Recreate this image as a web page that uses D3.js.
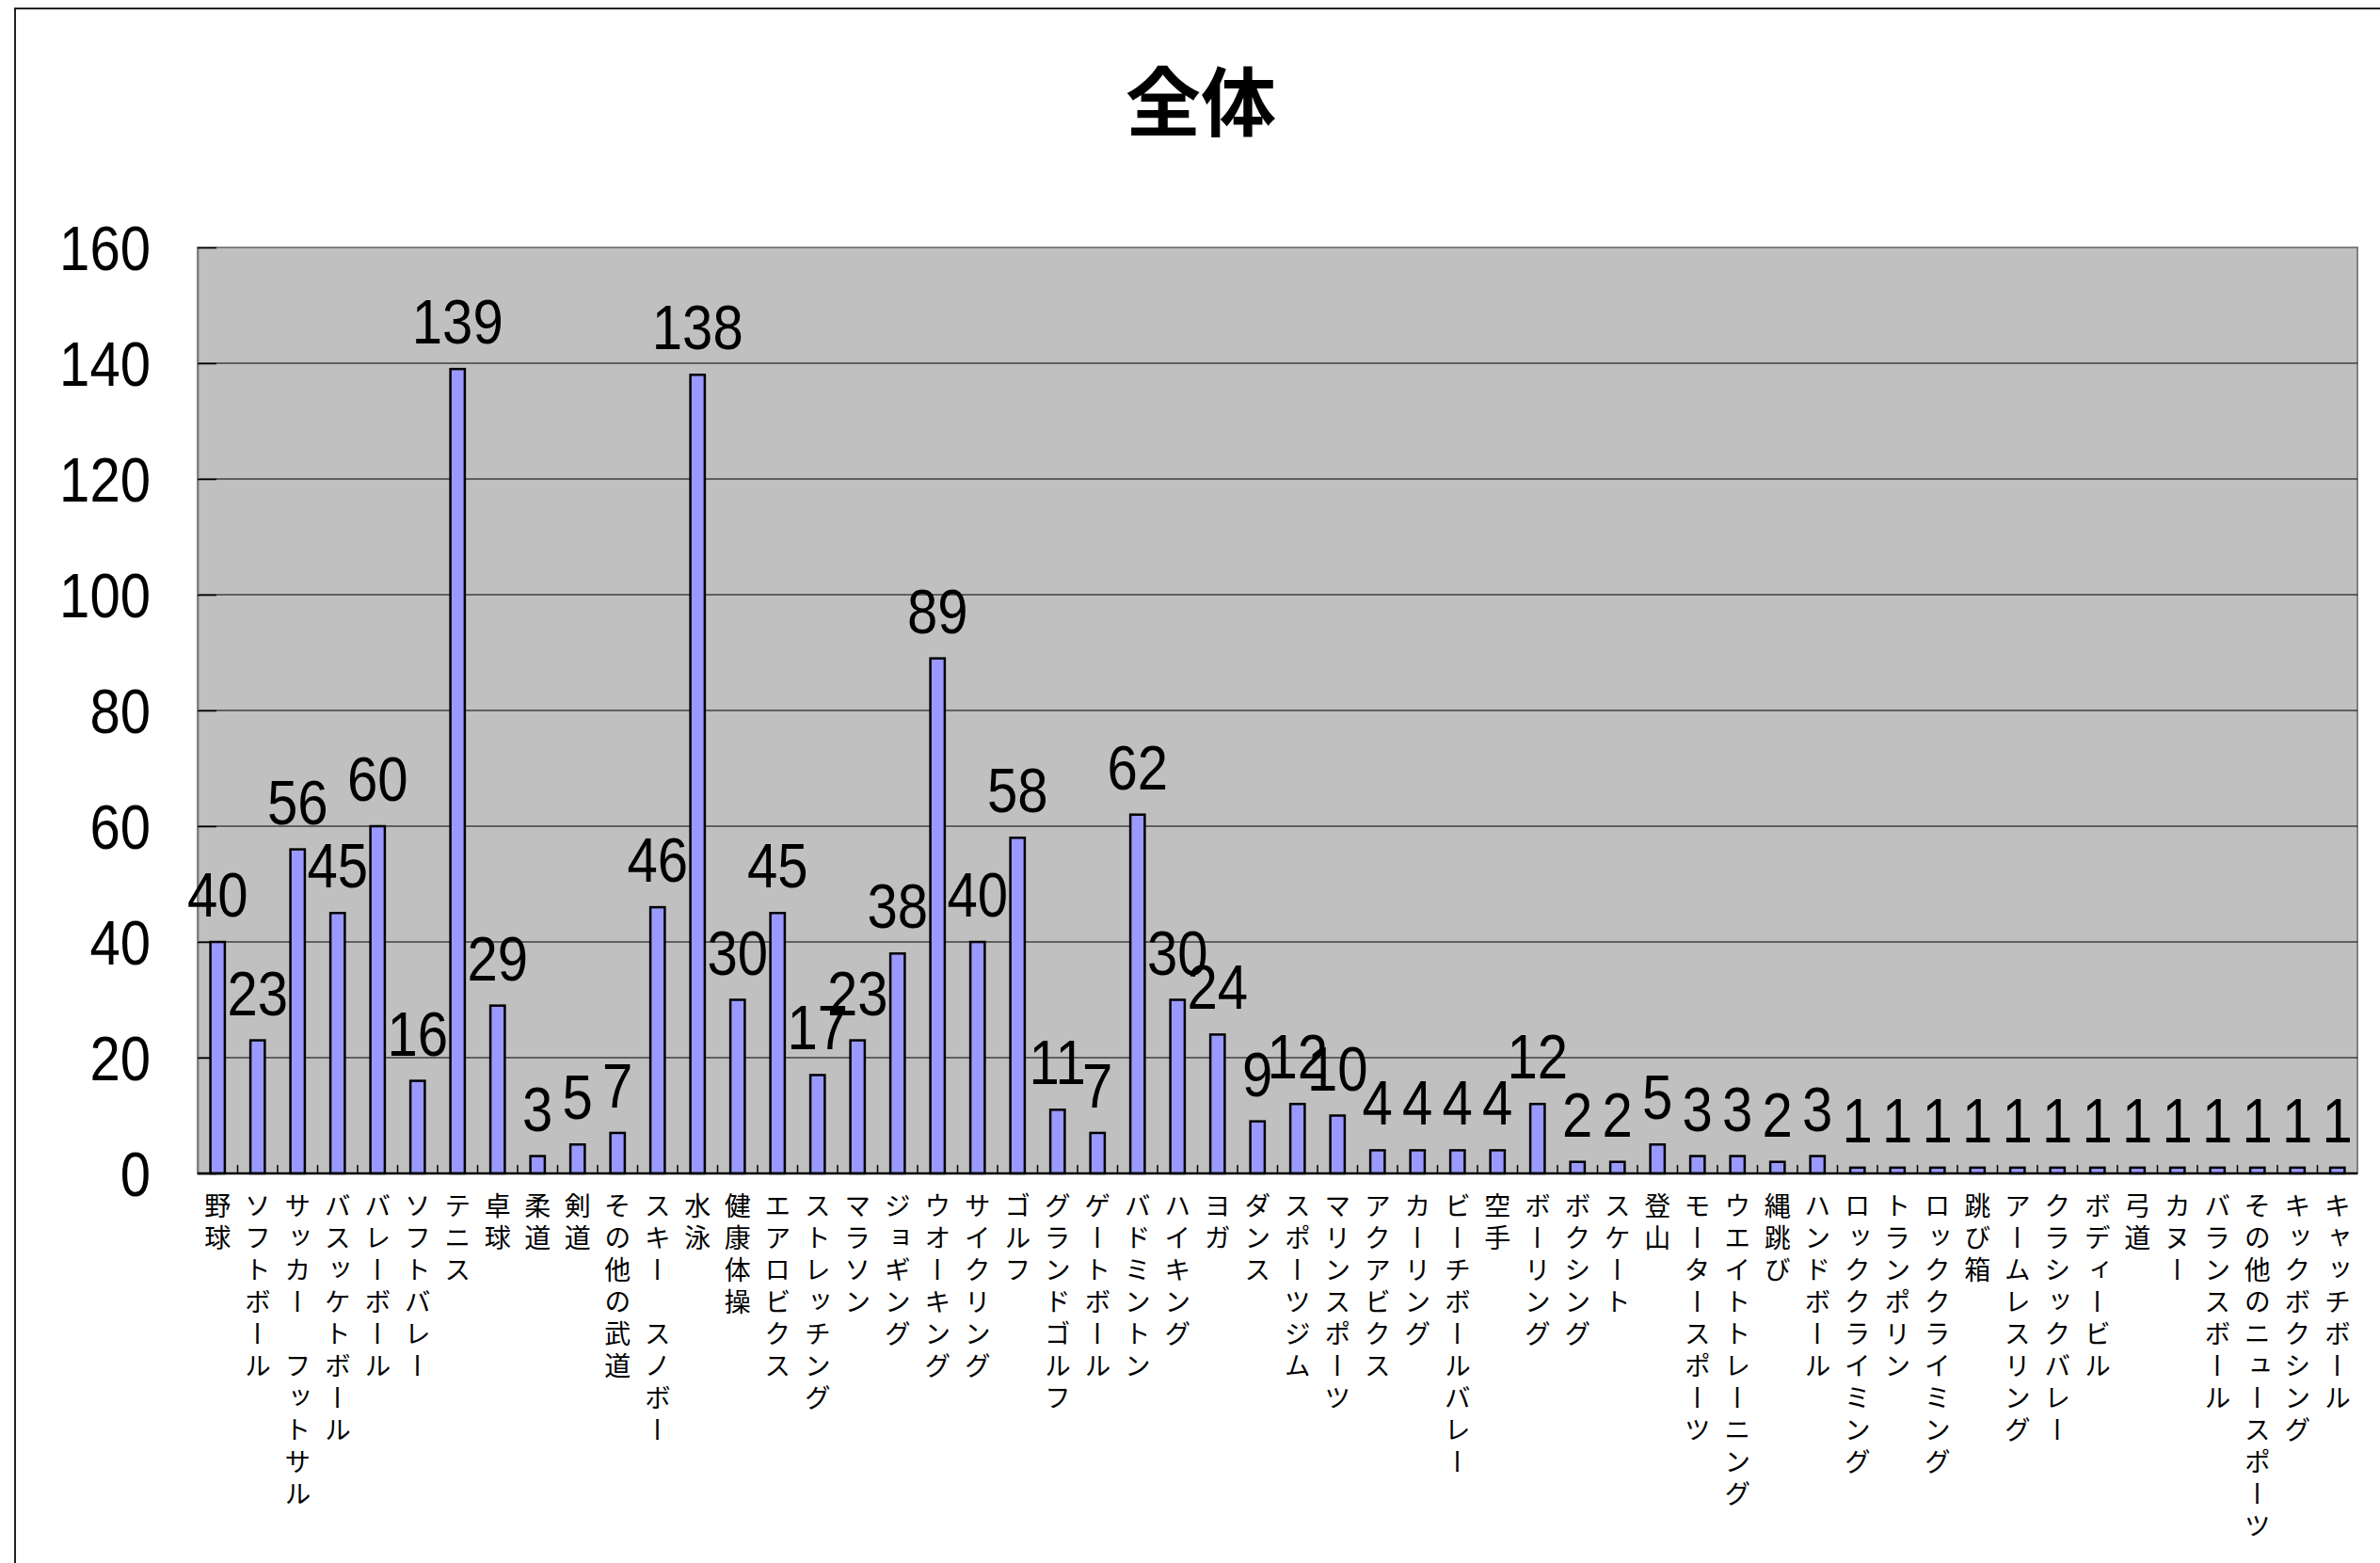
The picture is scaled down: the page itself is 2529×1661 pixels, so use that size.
<!DOCTYPE html>
<html><head><meta charset="utf-8">
<script src="https://cdn.jsdelivr.net/npm/d3@7"></script>
<style>
html,body{margin:0;padding:0;background:#fff;}
svg{display:block;}
</style></head>
<body>
<script>
const title = "全体";
const categories = ["野球","ソフトボール","サッカー　フットサル","バスッケトボール","バレーボール","ソフトバレー","テニス","卓球","柔道","剣道","その他の武道","スキー　スノボー","水泳","健康体操","エアロビクス","ストレッチング","マラソン","ジョギング","ウオーキング","サイクリング","ゴルフ","グランドゴルフ","ゲートボール","バドミントン","ハイキング","ヨガ","ダンス","スポーツジム","マリンスポーツ","アクアビクス","カーリング","ビーチボールバレー","空手","ボーリング","ボクシング","スケート","登山","モータースポーツ","ウエイトトレーニング","縄跳び","ハンドボール","ロッククライミング","トランポリン","ロッククライミング","跳び箱","アームレスリング","クラシックバレー","ボディービル","弓道","カヌー","バランスボール","その他のニュースポーツ","キックボクシング","キャッチボール"];
const values = [40,23,56,45,60,16,139,29,3,5,7,46,138,30,45,17,23,38,89,40,58,11,7,62,30,24,9,12,10,4,4,4,4,12,2,2,5,3,3,2,3,1,1,1,1,1,1,1,1,1,1,1,1,1];
const yTicks = [0,20,40,60,80,100,120,140,160];

const W = 2529, H = 1661;
const m = {left:210, right:2505, top:263, bottom:1247};
const svg = d3.select("body").append("svg").attr("width",W).attr("height",H);

// chart frame
svg.append("path").attr("d",`M16,${H} L16,9 L${W},9`).attr("fill","none").attr("stroke","#222").attr("stroke-width",2);

// title
svg.append("text").attr("x",1276).attr("y",138).attr("text-anchor","middle")
  .attr("font-family","'Noto Sans CJK JP'").attr("font-weight","bold").attr("font-size",80)
  .text(title);

const x = d3.scaleBand().domain(d3.range(categories.length)).range([m.left,m.right]).padding(0);
const y = d3.scaleLinear().domain([0,160]).range([m.bottom,m.top]);

// plot background
svg.append("rect").attr("x",m.left).attr("y",m.top).attr("width",m.right-m.left).attr("height",m.bottom-m.top)
  .attr("fill","#c0c0c0").attr("stroke","#808080").attr("stroke-width",2);

// gridlines
svg.append("g").selectAll("line").data(yTicks.filter(d=>d>0&&d<160)).join("line")
  .attr("x1",m.left).attr("x2",m.right).attr("y1",d=>y(d)).attr("y2",d=>y(d))
  .attr("stroke","#000").attr("stroke-width",1);

// y axis
const yAxis = svg.append("g").attr("transform",`translate(${m.left},0)`)
  .call(d3.axisLeft(y).tickValues(yTicks).tickSizeInner(-20).tickSizeOuter(0).tickPadding(40));
yAxis.select(".domain").attr("stroke","#808080").attr("stroke-width",2);
yAxis.selectAll(".tick line").attr("stroke","#000").attr("stroke-width",1.5);
yAxis.selectAll(".tick text").attr("font-family","'Liberation Sans', Arial, sans-serif").attr("font-size",66)
  .attr("fill","#000").attr("dy","0.36em")
  .attr("transform","scale(0.88,1)").attr("x",-50/0.88);

// x axis ticks between categories
const bounds = d3.range(1,categories.length).map(i=>x(i));
svg.append("g").selectAll("line").data(bounds).join("line")
  .attr("x1",d=>d).attr("x2",d=>d).attr("y1",m.bottom).attr("y2",m.bottom-9)
  .attr("stroke","#000").attr("stroke-width",1.5);

// bars
const bw = x.bandwidth()*0.36;
svg.append("g").selectAll("rect").data(values).join("rect")
  .attr("x",(d,i)=>x(i)+x.bandwidth()/2-bw/2).attr("width",bw)
  .attr("y",d=>y(d)).attr("height",d=>y(0)-y(d))
  .attr("fill","#9999ff").attr("stroke","#000").attr("stroke-width",2.5);

// x axis line
svg.append("line").attr("x1",m.left).attr("x2",m.right).attr("y1",m.bottom).attr("y2",m.bottom)
  .attr("stroke","#000").attr("stroke-width",2.5);

// data labels
svg.append("g").selectAll("text").data(values).join("text")
  .attr("transform",(d,i)=>`translate(${x(i)+x.bandwidth()/2},${y(d)-27}) scale(0.88,1)`)
  .attr("text-anchor","middle")
  .attr("font-family","'Liberation Sans', Arial, sans-serif").attr("font-size",66)
  .text(d=>d);

// category labels (vertical)
svg.append("g").selectAll("text").data(categories).join("text")
  .attr("x",(d,i)=>x(i)+x.bandwidth()/2).attr("y",m.bottom+20)
  .attr("style","writing-mode: vertical-rl; text-orientation: upright;")
  .attr("font-family","'Noto Sans CJK JP'").attr("font-size",28)
  .attr("letter-spacing",6)
  .text(d=>d);
</script>
</body></html>
